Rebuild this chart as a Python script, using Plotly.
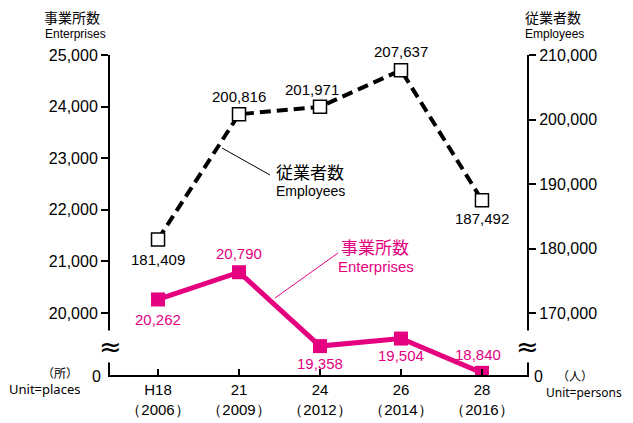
import plotly.graph_objects as go

# ---- data ----
years = ["H18<br>（2006）", "21<br>（2009）", "24<br>（2012）", "26<br>（2014）", "28<br>（2016）"]
enterprises = [20262, 20790, 19358, 19504, 18840]
employees = [181409, 200816, 201971, 207637, 187492]
left_ticks = [20000, 21000, 22000, 23000, 24000, 25000]
right_ticks = [170000, 180000, 190000, 200000, 210000]

PINK = "#E4007F"
JP = "Noto Sans CJK JP"
LAT = "Liberation Sans"

W, H = 633, 423
OFF = 8  # page body margin
# plot area on screen: x 110..527, y 55..375
SL, SR, ST, SB = 110, 527, 55, 375
L, T = SL - OFF, ST - OFF
R = W - L - (SR - SL)
B = H - T - (SB - ST)
PW, PH = SR - SL, SB - ST


def px(xs_):
    return (xs_ - SL) / PW


def py(ys_):
    return (SB - ys_) / PH


xs = list(range(len(years)))

fig = go.Figure()
fig.add_trace(go.Scatter(
    x=xs, y=employees, yaxis="y2", mode="lines+markers",
    line=dict(color="black", width=4, dash="11px,6px"),
    marker=dict(symbol="square", size=13, color="white", line=dict(color="black", width=1.5)),
    showlegend=False, hoverinfo="skip"))
fig.add_trace(go.Scatter(
    x=xs, y=enterprises, yaxis="y", mode="lines+markers",
    line=dict(color=PINK, width=5),
    marker=dict(symbol="square", size=14, color=PINK),
    showlegend=False, hoverinfo="skip"))

ann = []


def txt(x, y, text, size, color="black", family=LAT, **kw):
    d = dict(x=px(x), y=py(y), xref="paper", yref="paper", text=text, showarrow=False,
             xanchor="center", yanchor="middle", font=dict(family=family, size=size, color=color))
    d.update(kw)
    ann.append(d)


# data labels
emp_off = [(0, -20), (0, 18), (-8, 17), (0, 19), (0, -18)]
for i, v in enumerate(employees):
    dx, dy = emp_off[i]
    ann.append(dict(x=xs[i], y=v, xref="x", yref="y2", text=f"{v:,}", showarrow=False,
                    xanchor="center", yanchor="middle",
                    xshift=dx, yshift=dy, font=dict(family=LAT, size=15, color="black")))
ent_off = [(0, -20), (0, 19), (0, -17), (0, -17), (-4, 18)]
for i, v in enumerate(enterprises):
    dx, dy = ent_off[i]
    ann.append(dict(x=xs[i], y=v, xref="x", yref="y", text=f"{v:,}", showarrow=False,
                    xanchor="center", yanchor="middle",
                    xshift=dx, yshift=dy, font=dict(family=LAT, size=15, color=PINK)))

# zero labels
txt(96, 376, "0", 16)
txt(538, 376, "0", 16)

# break marks
for xb in (SL, SR):
    txt(xb, 346, "≈", 27, family="DejaVu Sans", bgcolor="white", borderpad=0)

# axis titles / units
txt(72, 17, "事業所数", 14, family=JP)
txt(75, 34, "Enterprises", 12)
txt(553, 17, "従業者数", 14, family=JP)
txt(554, 34, "Employees", 12)
txt(60, 372, "（所）", 12, family=JP)
txt(44, 389, "Unit=places", 13, family="Noto Sans")
txt(575, 375, "（人）", 12, family=JP)
txt(584, 392, "Unit=persons", 12, family="Noto Sans")
# series labels
txt(310, 171, "従業者数", 17, family=JP)
txt(310, 191, "Employees", 14)
txt(375, 246, "事業所数", 17, color=PINK, family=JP)
txt(376, 266, "Enterprises", 15, color=PINK)

shapes = [
    dict(type="line", xref="paper", yref="paper", x0=px(222), y0=py(148), x1=px(270), y1=py(175),
         line=dict(color="black", width=1)),
    dict(type="line", xref="paper", yref="paper", x0=px(275), y0=py(298), x1=px(338), y1=py(253),
         line=dict(color=PINK, width=1)),
]

axis_common = dict(showgrid=False, zeroline=False, showline=True, linecolor="black", linewidth=2,
                   tickwidth=2, tickcolor="black", automargin=False)

fig.update_layout(
    width=W, height=H,
    margin=dict(l=L, r=R, t=T, b=B, autoexpand=False),
    paper_bgcolor="white", plot_bgcolor="white",
    xaxis=dict(range=[-0.593, 4.556], tickvals=xs, ticktext=years, ticks="inside", ticklen=6,
               tickfont=dict(family=LAT, size=15, color="black"), **axis_common),
    yaxis=dict(range=[18798, 25000], tickvals=left_ticks, ticktext=[f"{v:,}" for v in left_ticks],
               ticks="outside", ticklen=7, tickfont=dict(family=LAT, size=16, color="black"),
               **axis_common),
    yaxis2=dict(range=[160388, 210000], tickvals=right_ticks, ticktext=[f"{v:,}" for v in right_ticks],
                overlaying="y", side="right", ticks="outside", ticklen=7,
                tickfont=dict(family=LAT, size=16, color="black"), **axis_common),
    annotations=ann, shapes=shapes,
)

fig.write_html("out.html")
